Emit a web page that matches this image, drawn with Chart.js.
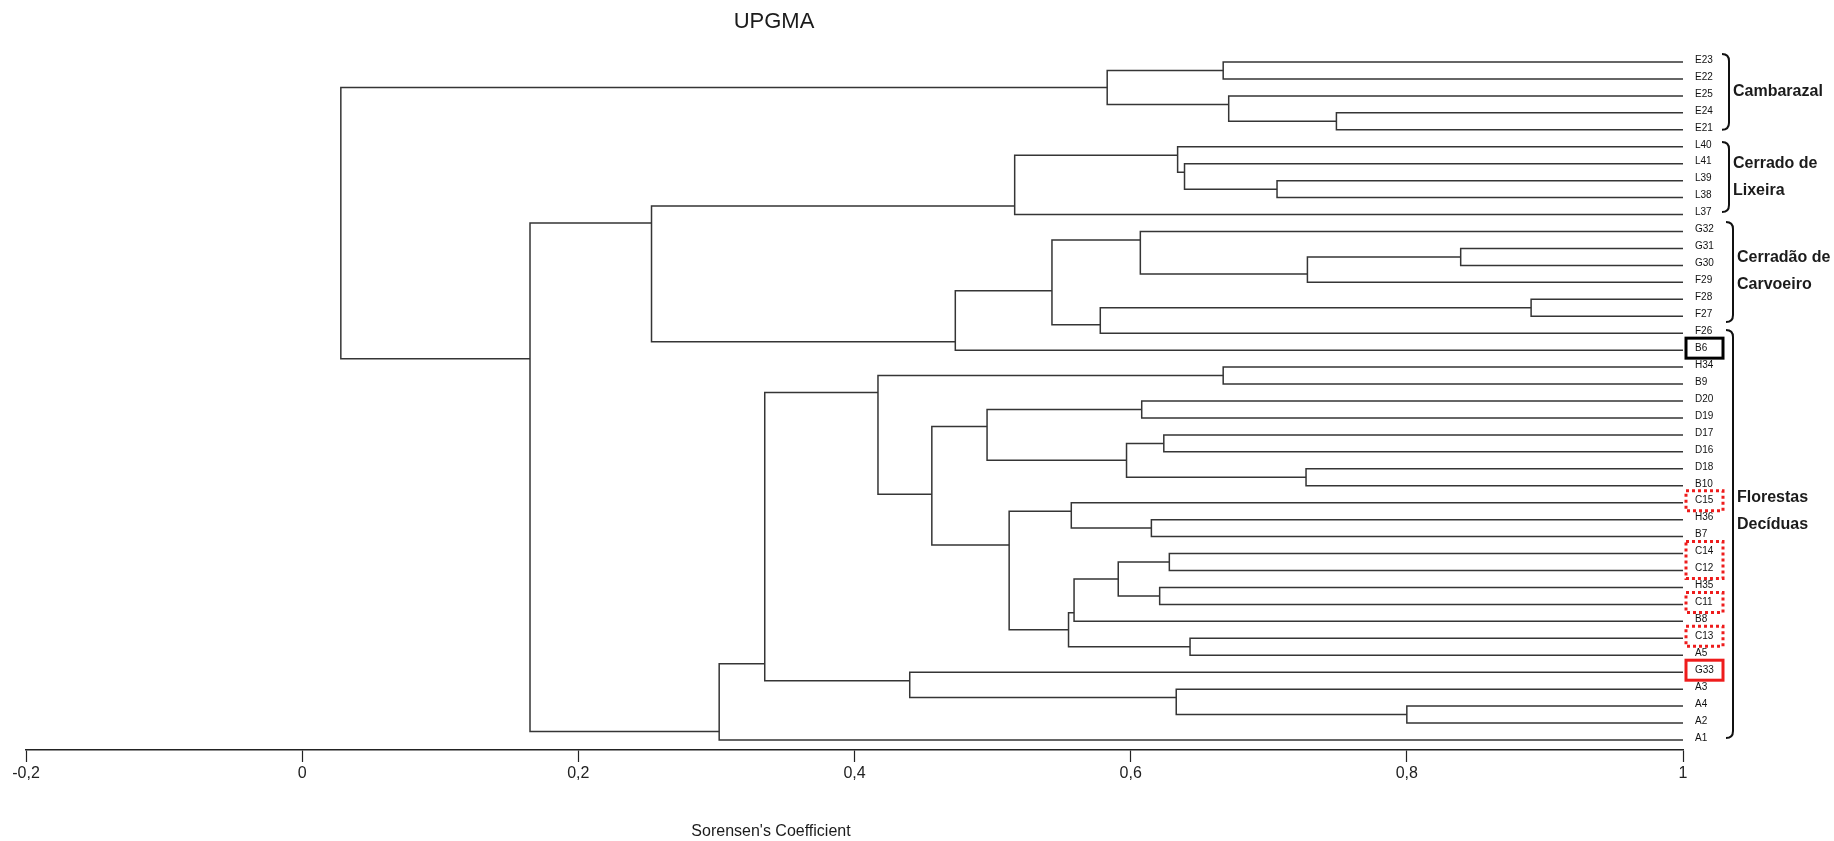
<!DOCTYPE html>
<html lang="pt">
<head>
<meta charset="UTF-8">
<title>UPGMA</title>
<script src="https://cdn.jsdelivr.net/npm/chart.js"></script>
<style>
  body { margin: 0; background: #fff; }
  canvas { display: block; }
</style>
</head>
<body>
<canvas id="dendro" width="1834" height="841"></canvas>
<script>
// leaves, top to bottom
const leafNames = ['E23', 'E22', 'E25', 'E24', 'E21', 'L40', 'L41', 'L39', 'L38', 'L37',
    'G32', 'G31', 'G30', 'F29', 'F28', 'F27', 'F26', 'B6', 'H34', 'B9',
    'D20', 'D19', 'D17', 'D16', 'D18', 'B10', 'C15', 'H36', 'B7', 'C14',
    'C12', 'H35', 'C11', 'B8', 'C13', 'A5', 'G33', 'A3', 'A4', 'A2', 'A1'];

// merges: upper child, lower child, similarity level ('m3' = result of merge 3)
const mergeUpper = ['E23', 'E24', 'E25', 'm0', 'L39', 'L41', 'L40', 'm6', 'G31', 'm8',
    'G32', 'F28', 'm11', 'm10', 'm13', 'm7', 'H34', 'D20', 'D17', 'D18',
    'm18', 'm17', 'H36', 'C15', 'C14', 'H35', 'm24', 'm26', 'C13', 'm27',
    'm23', 'm21', 'm16', 'A4', 'A3', 'G33', 'm32', 'm36', 'm15', 'm3'];
const mergeLower = ['E22', 'E21', 'm1', 'm2', 'L38', 'm4', 'm5', 'L37', 'G30', 'F29',
    'm9', 'F27', 'F26', 'm12', 'B6', 'm14', 'B9', 'D19', 'D16', 'B10',
    'm19', 'm20', 'B7', 'm22', 'C12', 'C11', 'm25', 'B8', 'A5', 'm28',
    'm29', 'm30', 'm31', 'A2', 'm33', 'm34', 'm35', 'A1', 'm37', 'm38'];
const mergeLevel = [0.667, 0.749, 0.671, 0.583, 0.706, 0.639, 0.634, 0.516, 0.839, 0.728,
    0.607, 0.890, 0.578, 0.543, 0.473, 0.253, 0.667, 0.608, 0.624, 0.727,
    0.597, 0.496, 0.615, 0.557, 0.628, 0.621, 0.591, 0.559, 0.643, 0.555,
    0.512, 0.456, 0.417, 0.800, 0.633, 0.440, 0.335, 0.302, 0.165, 0.028];

const xTickValues = [-0.2, 0, 0.2, 0.4, 0.6, 0.8, 1];
const xTickLabels = ['-0,2', '0', '0,2', '0,4', '0,6', '0,8', '1'];

const groupNames = [['Cambarazal'], ['Cerrado de', 'Lixeira'], ['Cerradão de', 'Carvoeiro'], ['Florestas', 'Decíduas']];
const blackBoxLeaves = [['B6']];
const redBoxLeaves = [['G33']];
const dottedBoxLeaves = [['C15'], ['C14', 'C12'], ['C11'], ['C13']];

// bracket extents and label centres, in leaf rows
const bracketRows = [[-0.47, 4.0], [4.72, 8.85], [9.44, 15.34], [15.81, 39.88]];
const bracketOffset = [46, 46, 50, 50];
const labelRows = [1.77, 6.79, 12.33, 26.49];

const FONT = '"Liberation Sans", Arial, sans-serif';
const LINE = '#353535';

// PAST style layout: a node hangs at the gap above the first leaf of its lower child
const nodes = {};
leafNames.forEach((n, i) => { nodes[n] = { row: i, first: i, level: 1 }; });
const datasets = [];
mergeUpper.forEach((u, k) => {
    const a = nodes[u];
    const b = nodes[mergeLower[k]];
    const h = mergeLevel[k];
    nodes['m' + k] = { row: b.first - 0.5, first: a.first, level: h };
    datasets.push({
        data: [{ x: a.level, y: a.row }, { x: h, y: a.row }, { x: h, y: b.row }, { x: b.level, y: b.row }],
        showLine: true,
        borderColor: LINE,
        borderWidth: 1.5,
        pointRadius: 0,
        tension: 0,
        fill: false
    });
});

const rowOf = name => leafNames.indexOf(name);

const annotate = {
    id: 'annotate',
    afterDraw(chart) {
        const { ctx, chartArea, scales: { y } } = chart;
        const R = chartArea.right;
        ctx.save();
        ctx.fillStyle = '#1b1b1b';
        ctx.textBaseline = 'middle';
        ctx.textAlign = 'center';
        ctx.font = '22px ' + FONT;
        ctx.fillText('UPGMA', 774, 22);
        ctx.font = '16px ' + FONT;
        ctx.fillText("Sorensen's Coefficient", 771, 832);

        // group brackets
        ctx.strokeStyle = '#111';
        ctx.lineWidth = 2;
        ctx.textAlign = 'left';
        ctx.font = 'bold 16px ' + FONT;
        bracketRows.forEach(([r0, r1], g) => {
            const x = R + bracketOffset[g];
            const top = y.getPixelForValue(r0);
            const bot = y.getPixelForValue(r1);
            ctx.beginPath();
            ctx.moveTo(x - 7, top);
            ctx.quadraticCurveTo(x, top, x, top + 7);
            ctx.lineTo(x, bot - 7);
            ctx.quadraticCurveTo(x, bot, x - 7, bot);
            ctx.stroke();
            const lines = groupNames[g];
            const cy = y.getPixelForValue(labelRows[g]);
            lines.forEach((t, j) => {
                ctx.fillText(t, x + 4, cy + (j - (lines.length - 1) / 2) * 27);
            });
        });

        // boxes around marked leaves
        function box(names, color, dashed) {
            const top = y.getPixelForValue(rowOf(names[0])) - 12;
            const bot = y.getPixelForValue(rowOf(names[names.length - 1])) + 8;
            ctx.strokeStyle = color;
            ctx.lineWidth = 3;
            ctx.setLineDash(dashed ? [3, 3] : []);
            ctx.strokeRect(R + 3, top, 37, bot - top);
        }
        blackBoxLeaves.forEach(n => box(n, '#000', false));
        redBoxLeaves.forEach(n => box(n, '#ee1c1c', false));
        dottedBoxLeaves.forEach(n => box(n, '#ee1c1c', true));
        ctx.restore();
    }
};

new Chart(document.getElementById('dendro'), {
    type: 'scatter',
    data: { datasets: datasets },
    options: {
        responsive: false,
        animation: false,
        devicePixelRatio: 1,
        layout: { padding: { top: 45, left: 26, right: 0, bottom: 0 } },
        plugins: { legend: { display: false }, tooltip: { enabled: false } },
        scales: {
            x: {
                type: 'linear',
                min: -0.2,
                max: 1,
                afterBuildTicks: s => { s.ticks = xTickValues.map(v => ({ value: v })); },
                afterFit: s => { s.height = 91; },
                ticks: {
                    callback: (v, i) => xTickLabels[i],
                    color: '#222',
                    font: { family: FONT, size: 16 },
                    padding: 2,
                    maxRotation: 0
                },
                grid: { drawOnChartArea: false, drawTicks: true, tickLength: 12, color: '#222', tickWidth: 1.2 },
                border: { display: true, color: '#222', width: 1.5 }
            },
            y: {
                type: 'linear',
                position: 'right',
                reverse: true,
                min: -1.003,
                max: 40.59,
                afterBuildTicks: s => { s.ticks = leafNames.map((n, i) => ({ value: i })); },
                afterFit: s => { s.width = 151; },
                ticks: {
                    autoSkip: false,
                    callback: v => leafNames[v],
                    color: '#111',
                    font: { family: FONT, size: 10 },
                    padding: 12,
                    labelOffset: -2
                },
                grid: { display: false, drawTicks: false },
                border: { display: false }
            }
        }
    },
    plugins: [annotate]
});
</script>
</body>
</html>
